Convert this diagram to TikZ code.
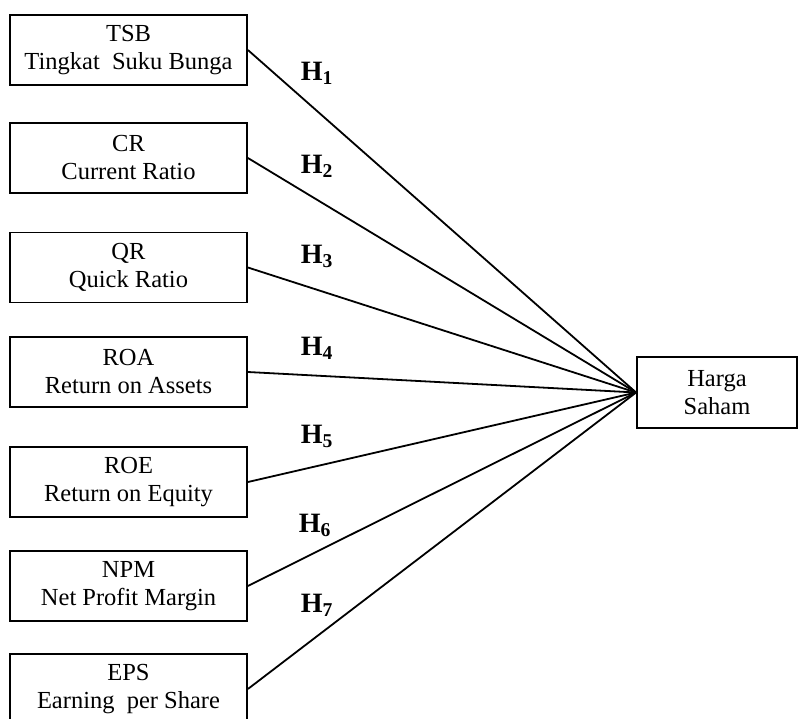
\documentclass[tikz,border=0pt]{standalone}
\usepackage{fontspec}
\setmainfont{Liberation Serif}
\begin{document}
\begin{tikzpicture}[x=1pt, y=-1pt, line width=1.8pt,
  var/.style={draw, minimum width=237pt, minimum height=70pt, inner sep=0pt,
    align=center, font=\fontsize{24.5}{28}\selectfont},
  hyp/.style={anchor=base west, inner sep=0pt, font=\fontsize{28}{28}\selectfont\bfseries}]
\useasboundingbox (0,0) rectangle (798,718);

% Independent variables
\node[var] (tsb) at (128.5, 50)  {TSB\\Tingkat\ \ Suku Bunga};
\node[var] (cr)  at (128.5, 158) {CR\\Current Ratio};
\node[var] (qr)  at (128.5, 267.5) {QR\\Quick Ratio};
\node[var] (roa) at (128.5, 372) {ROA\\Return on Assets};
\node[var] (roe) at (128.5, 482) {ROE\\Return on Equity};
\node[var] (npm) at (128.5, 586) {NPM\\Net Profit Margin};
\node[var] (eps) at (128.5, 689) {EPS\\Earning\ \ per Share};

% Dependent variable
\node[var, minimum width=160pt, minimum height=71pt] (harga) at (717, 392.5) {Harga\\Saham};

% Paths
\foreach \v in {tsb, cr, qr, roa, roe, npm, eps} {
    \draw (\v.east) -- (harga.west);
}

% Hypotheses
\node[hyp] (h1) at (300, 80)  {H\textsubscript{1}};
\node[hyp] (h2) at (300, 173) {H\textsubscript{2}};
\node[hyp] (h3) at (300, 263) {H\textsubscript{3}};
\node[hyp] (h4) at (300, 355) {H\textsubscript{4}};
\node[hyp] (h5) at (300, 443) {H\textsubscript{5}};
\node[hyp] (h6) at (298, 532) {H\textsubscript{6}};
\node[hyp] (h7) at (300, 612) {H\textsubscript{7}};

\end{tikzpicture}
\end{document}
